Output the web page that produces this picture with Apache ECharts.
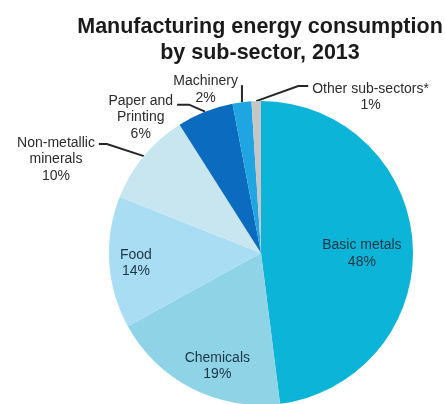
<!DOCTYPE html>
<html>
<head>
<meta charset="utf-8">
<script src="https://cdn.jsdelivr.net/npm/echarts@6/dist/echarts.min.js"></script>
<style>
  html, body { margin: 0; padding: 0; background: #ffffff; }
  #chart { width: 445px; height: 404px; }
</style>
</head>
<body>
<div id="chart"></div>
<script>
// Manufacturing energy consumption by sub-sector, 2013 (share of total, %)
const categories = ['Basic metals', 'Chemicals', 'Food', 'Non-metallic minerals',
                    'Paper and Printing', 'Machinery', 'Other sub-sectors*'];
const labelText = ['Basic metals', 'Chemicals', 'Food', 'Non-metallic\nminerals',
                   'Paper and\nPrinting', 'Machinery', 'Other sub-sectors*'];
const shares = [48, 19, 14, 10, 6, 2, 1];

const palette = ['#0cb4d8', '#8fd3e6', '#a9ddf3', '#c7e6f0', '#0b6cbf', '#1fa6e2', '#c6c6c6'];

const PIE_CX = 261, PIE_CY = 253, PIE_R = 152;
const LINE_H = 16.5;

// slices labelled inside the pie: outward push from the default mid-radius, then a nudge
const insidePlace = {
  0: { push: 1.33, nudge: [-4, 7] },
  1: { push: 1.58, nudge: [13, 2] },
  2: { push: 1.65, nudge: [5, 2] }
};
// slices labelled outside: leader bend (relative to the edge point), horizontal run,
// side of the label and vertical position of its first line relative to the leader end
const leaders = {
  3: { bend: [-37, -12], run: -8,  side: -1, firstLine: -1 },
  4: { bend: [-16, -7],  run: -12, side: -1, firstLine: -4 },
  5: { bend: [0, -17],   run: 0,   side: -1, firstLine: -4 },
  6: { bend: [42, -15],  run: 10,  side: 1,  firstLine: 3 }
};

const data = categories.map((name, i) => {
  const inside = insidePlace[i] != null;
  return {
    name: name,
    value: shares[i],
    label: {
      position: inside ? 'inside' : 'outside',
      color: inside ? '#1c3644' : '#2b2b2b'
    },
    labelLine: { show: !inside }
  };
});

const chart = echarts.init(document.getElementById('chart'), null, { renderer: 'canvas' });

chart.setOption({
  animation: false,
  color: palette,
  title: {
    text: 'Manufacturing energy consumption\nby sub-sector, 2013',
    left: 255,
    top: 9,
    textAlign: 'center',
    textStyle: {
      fontFamily: '"Liberation Sans", Arial, sans-serif',
      fontSize: 21.5,
      fontWeight: 'bold',
      color: '#1a1a1a',
      lineHeight: 26
    }
  },
  series: [{
    type: 'pie',
    center: [PIE_CX, PIE_CY],
    radius: PIE_R,
    startAngle: 90,
    clockwise: true,
    avoidLabelOverlap: false,
    silent: true,
    itemStyle: { borderWidth: 0 },
    label: {
      fontFamily: '"Liberation Sans", Arial, sans-serif',
      fontSize: 14,
      lineHeight: LINE_H,
      align: 'center',
      formatter: (p) => labelText[p.dataIndex] + '\n' + p.value + '%'
    },
    labelLine: {
      show: true,
      length: 10,
      length2: 10,
      lineStyle: { color: '#262626', width: 2 }
    },
    labelLayout: function (params) {
      const i = params.dataIndex;
      const r = params.labelRect;
      const inside = insidePlace[i];
      if (inside) {
        const lx = r.x + r.width / 2;
        const ly = r.y + r.height / 2;
        return {
          x: PIE_CX + (lx - PIE_CX) * inside.push + inside.nudge[0],
          y: PIE_CY + (ly - PIE_CY) * inside.push + inside.nudge[1],
          align: 'center',
          verticalAlign: 'middle'
        };
      }
      const L = leaders[i];
      const pts = params.labelLinePoints;
      if (!L || !pts) return {};
      const p0 = pts[0];
      const p1 = [p0[0] + L.bend[0], p0[1] + L.bend[1]];
      const p2 = [p1[0] + L.run, p1[1]];
      return {
        x: p2[0] + L.side * (4 + r.width / 2),
        y: p2[1] + L.firstLine - LINE_H / 2,
        align: 'center',
        verticalAlign: 'top',
        labelLinePoints: [p0, p1, p2]
      };
    },
    data: data
  }]
});
</script>
</body>
</html>
